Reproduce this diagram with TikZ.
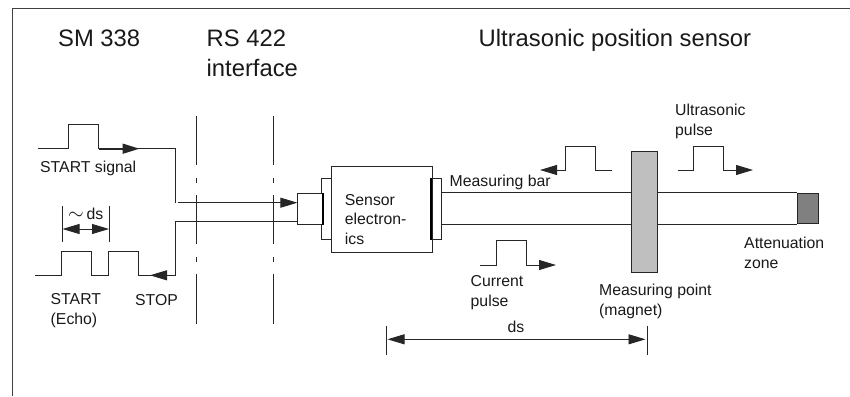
\documentclass[tikz,border=0pt]{standalone}
\usepackage{fontspec}
\setmainfont{Liberation Sans}
\usetikzlibrary{arrows.meta}
\tikzset{
  line/.style={line width=0.9pt,black!85},
  tip/.style={-{Triangle[length=17pt,width=10pt]}},
  tipboth/.style={{Triangle[length=17pt,width=10pt]}-{Triangle[length=17pt,width=10pt]}},
  big/.style={anchor=base west,inner sep=0pt,font=\fontsize{23.8}{28}\selectfont,black!90},
  small/.style={anchor=base west,inner sep=0pt,align=left,font=\fontsize{15.8}{19.2}\selectfont,black!90},
  box/.style={draw,line width=0.9pt,black!85,fill=white,inner sep=0pt},
}
\begin{document}
\begin{tikzpicture}[x=1pt,y=-1pt]
  \useasboundingbox (0,0) rectangle (850,396);
  % frame
  \draw[line width=1.3pt,black!75] (12.5,396) -- (12.5,8.5) -- (850,8.5);
  % headings
  \node[big] (sm) at (58,47) {SM 338};
  \node[big] (rs) at (206.5,47) {RS 422};
  \node[big] (iface) at (206.5,76) {interface};
  \node[big] (sensor) at (478.5,47) {Ultrasonic position sensor};
  % interface lines
  \foreach \x in {196.5,273}{
    \draw[line] (\x,116) -- (\x,165);
    \draw[line] (\x,178) -- (\x,183);
    \draw[line] (\x,195) -- (\x,244);
    \draw[line] (\x,257) -- (\x,262);
    \draw[line] (\x,274) -- (\x,324);
  }
  % electronics
  \node[box,minimum width=9.5pt,minimum height=60.5pt] (flangel) at (326.5,209) {};
  \node[box,minimum width=24.3pt,minimum height=30.5pt] (plug) at (310,209) {};
  \node[box,minimum width=9.5pt,minimum height=60.5pt] (flanger) at (436.5,209) {};
  \node[box,minimum width=101pt,minimum height=86pt] (elec) at (381.5,209) {};
  \draw[line width=2pt,black] (plug.north east) -- (plug.south east);
  \draw[line width=2pt,black] (flanger.north west) -- (flanger.south west);
  \node[small] (elabel) at (344.7,244) {Sensor\\electron-\\ics};
  % bar
  \node[box,fill=black!50,minimum width=21pt,minimum height=30.5pt] (zone) at (808,208.5) {};
  \draw[line] (flanger.east |- zone.north) -- (zone.north west);
  \draw[line] (flanger.east |- zone.south) -- (zone.south west);
  \node[box,fill=black!25,minimum width=26.4pt,minimum height=120.3pt] (magnet) at (644.5,212) {};
  % start signal
  \coordinate (plugin) at (plug.west |- 0,202.7);
  \coordinate (plugout) at (plug.west |- 0,221);
  \coordinate (sa) at (38,148.7);
  \coordinate (sb) at (175.5,148.7);
  \coordinate (sc) at (175.5,202.7);
  \draw[line] (sa) -- (68.5,148.7) -- (68.5,124.5) -- (98.5,124.5) -- (98.5,148.7) -- (sb) -- (sc);
  \draw[line,line width=1.6pt,tip] (98.5,148.7) -- (139.5,148.7);
  \draw[line,tip] (178,202.7) -- (plugin);
  % echo
  \coordinate (ea) at (35,275.3);
  \coordinate (eb) at (175.5,275.3);
  \draw[line] (ea) -- (61.5,275.3) -- (61.5,251.5) -- (91.5,251.5) -- (91.5,275.3) -- (108.5,275.3)
    -- (108.5,251.5) -- (138.5,251.5) -- (138.5,275.3) -- (eb) -- (175.5,221) -- (plugout);
  \draw[line,tip] (eb) -- (150,275.3);
  % ds small
  \coordinate (dla) at (62.5,206);
  \coordinate (dlb) at (62.5,242);
  \coordinate (dra) at (109,206);
  \coordinate (drb) at (109,242);
  \draw[line] (dla) -- (dlb);
  \draw[line] (dra) -- (drb);
  \draw[line,tipboth] (dla |- 0,229) -- (dra |- 0,229);
  \node[small] (tilde) at (68,219) {\scalebox{1.4}{$\sim$}\,ds};
  % pulses on bar
  \draw[line,tip] (611.5,170) -- (595,170) -- (595,146) -- (565,146) -- (565,170) -- (540,170);
  \draw[line,tip] (677.5,170) -- (693.5,170) -- (693.5,146) -- (723.5,146) -- (723.5,170) -- (753,170);
  \draw[line,tip] (480,265) -- (496,265) -- (496,240.5) -- (526,240.5) -- (526,265) -- (556,265);
  % long ds
  \coordinate (lla) at (386,326);
  \coordinate (llb) at (386,355);
  \coordinate (lra) at (647,326);
  \coordinate (lrb) at (647,355);
  \draw[line] (lla) -- (llb);
  \draw[line] (lra) -- (lrb);
  \draw[line,tipboth] (387.5,339.3) -- (645.5,339.3);
  % labels
  \node[small] (startsig) at (40,172) {START signal};
  \node[small] (start) at (50.5,324) {START\\(Echo)};
  \node[small] (stop) at (135,305) {STOP};
  \node[small] (bar) at (449.5,186) {Measuring bar};
  \node[small] (ultra) at (675,135) {Ultrasonic\\pulse};
  \node[small] (curr) at (470.5,306) {Current\\pulse};
  \node[small] (ds) at (507.5,332.5) {ds};
  \node[small] (point) at (599,315) {Measuring point\\(magnet)};
  \node[small] (atten) at (744,268) {Attenuation\\zone};
\end{tikzpicture}
\end{document}
